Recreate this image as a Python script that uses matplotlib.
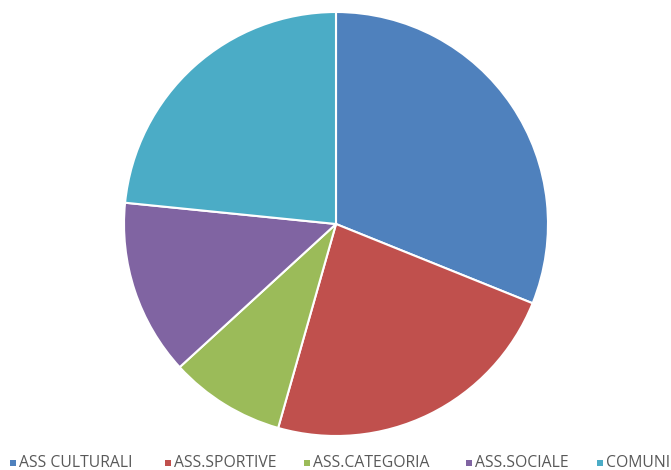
import matplotlib
matplotlib.use("Agg")
import matplotlib.pyplot as plt
from matplotlib.patches import Rectangle

categories = ["ASS CULTURALI", "ASS.SPORTIVE", "ASS.CATEGORIA", "ASS.SOCIALE", "COMUNI"]
values = [31.1, 23.3, 8.8, 13.4, 23.4]
colors = ["#4F81BD", "#C0504D", "#9BBB59", "#8064A2", "#4BACC6"]

plt.rcParams['font.family'] = ['Open Sans', 'DejaVu Sans']

W, H = 671, 470
fig = plt.figure(figsize=(W/100, H/100), dpi=100)
cx, cy, r = 336, 224, 212
ax = fig.add_axes([(cx - r)/W, (H - cy - r)/H, 2*r/W, 2*r/H])
ax.pie(values, colors=colors, startangle=90, counterclock=False, radius=1,
       wedgeprops=dict(edgecolor="white", linewidth=1.5))
ax.set_xlim(-1, 1)
ax.set_ylim(-1, 1)
ax.set_aspect('equal')
ax.axis('off')

# legend entries (laid out along the bottom, last one clipped by the edge)
marker_x = [10, 165, 304, 466, 597]
y_mid = 463
for mx, c, lab in zip(marker_x, colors, categories):
    fig.add_artist(Rectangle((mx / W, (H - y_mid - 3) / H), 6 / W, 6 / H,
                             transform=fig.transFigure, facecolor=c,
                             edgecolor='none'))
    fig.text((mx + 9) / W, (H - y_mid) / H, lab, fontsize=11.3,
             color="#595959", ha='left', va='center')

fig.savefig("out.png", dpi=100)
